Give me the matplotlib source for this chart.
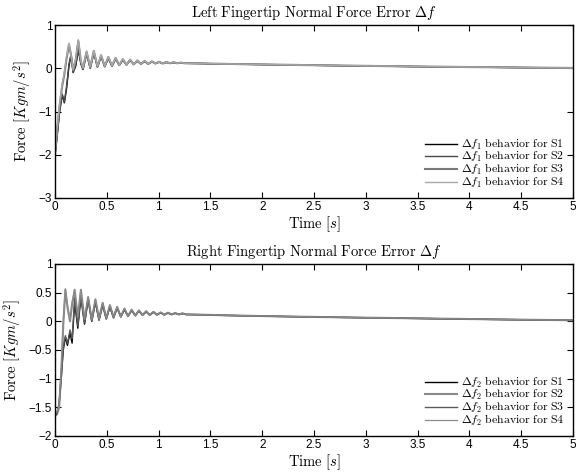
import matplotlib
matplotlib.use("Agg")
import matplotlib.pyplot as plt

plt.rcParams['mathtext.fontset'] = 'cm'
plt.rcParams['font.family'] = ['Liberation Sans', 'DejaVu Sans']

# ---------------- data: top panel (left fingertip) ----------------
t_top = [0, 0.02, 0.045, 0.07, 0.09, 0.11, 0.135, 0.155, 0.175, 0.2, 0.225, 0.25, 0.27,
         0.305, 0.34, 0.375, 0.41, 0.445, 0.48, 0.515, 0.55, 0.585, 0.62, 0.655, 0.69,
         0.725, 0.76, 0.795, 0.83, 0.865, 0.9, 0.935, 0.97, 1.005, 1.04, 1.075, 1.11,
         1.145, 1.18, 1.215, 1.25, 1.4, 1.6, 2.0, 2.5, 3.0, 3.5, 4.0, 4.5, 5.0]
left_s1 = [-2.0, -1.6, -1.0, -0.62, -0.8, -0.5, 0.05, 0.3, -0.1, 0.05, 0.42, 0.1, -0.03,
           0.33, 0.0, 0.35, 0.03, 0.27, 0.04, 0.23, 0.05, 0.21, 0.07, 0.19, 0.08,
           0.18, 0.09, 0.16, 0.1, 0.155, 0.1, 0.15, 0.11, 0.14, 0.11, 0.135, 0.115,
           0.13, 0.115, 0.125, 0.115, 0.11, 0.1, 0.085, 0.068, 0.052, 0.038, 0.026, 0.015, 0.005]
left_s2 = [-2.0, -1.55, -0.95, -0.6, -0.78, -0.45, 0.1, 0.33, -0.08, 0.08, 0.45, 0.12, -0.02,
           0.36, 0.01, 0.37, 0.03, 0.28, 0.04, 0.24, 0.05, 0.22, 0.07, 0.2, 0.08,
           0.19, 0.09, 0.17, 0.1, 0.16, 0.1, 0.15, 0.11, 0.145, 0.11, 0.14, 0.115,
           0.135, 0.115, 0.125, 0.115, 0.11, 0.1, 0.086, 0.069, 0.053, 0.039, 0.027, 0.016, 0.006]
left_s3 = [-2.0, -1.45, -0.85, -0.4, -0.15, 0.2, 0.55, 0.3, -0.05, 0.2, 0.63, 0.15, 0.0,
           0.38, 0.02, 0.4, 0.03, 0.3, 0.04, 0.26, 0.05, 0.24, 0.07, 0.21, 0.08,
           0.2, 0.09, 0.18, 0.1, 0.17, 0.1, 0.16, 0.11, 0.15, 0.11, 0.145, 0.115,
           0.14, 0.115, 0.13, 0.115, 0.112, 0.102, 0.088, 0.07, 0.055, 0.04, 0.028, 0.017, 0.007]
left_s4 = [-2.0, -1.4, -0.8, -0.35, -0.1, 0.25, 0.58, 0.32, -0.03, 0.22, 0.66, 0.17, 0.01,
           0.4, 0.03, 0.41, 0.04, 0.31, 0.05, 0.27, 0.06, 0.24, 0.07, 0.22, 0.08,
           0.2, 0.09, 0.18, 0.1, 0.17, 0.1, 0.16, 0.11, 0.15, 0.11, 0.145, 0.115,
           0.14, 0.115, 0.13, 0.115, 0.113, 0.103, 0.089, 0.071, 0.056, 0.041, 0.029, 0.018, 0.008]

# ---------------- data: bottom panel (right fingertip) ----------------
t_bot = [0, 0.02, 0.04, 0.06, 0.08, 0.1, 0.12, 0.145, 0.165, 0.19, 0.22, 0.25, 0.285,
         0.32, 0.355, 0.39, 0.425, 0.46, 0.495, 0.53, 0.565, 0.6, 0.635, 0.67, 0.705,
         0.74, 0.775, 0.81, 0.845, 0.88, 0.915, 0.95, 0.985, 1.02, 1.055, 1.09, 1.125,
         1.16, 1.195, 1.23, 1.265, 1.4, 1.6, 2.0, 2.5, 3.0, 3.5, 4.0, 4.5, 5.0]
right_s1 = [-1.65, -1.6, -1.45, -1.0, -0.5, -0.28, -0.42, -0.2, -0.38, 0.33, -0.12, 0.42, -0.05,
            0.38, 0.0, 0.33, 0.02, 0.28, 0.04, 0.25, 0.06, 0.23, 0.08, 0.2, 0.09,
            0.19, 0.1, 0.18, 0.11, 0.165, 0.11, 0.16, 0.115, 0.15, 0.115, 0.145, 0.12,
            0.14, 0.12, 0.135, 0.12, 0.115, 0.105, 0.09, 0.075, 0.062, 0.05, 0.038, 0.027, 0.017]
right_s2 = [-1.65, -1.62, -1.5, -0.9, -0.05, 0.55, 0.25, 0.0, 0.3, 0.55, 0.05, 0.55, 0.02,
            0.42, 0.02, 0.38, 0.04, 0.32, 0.05, 0.28, 0.07, 0.25, 0.08, 0.22, 0.09,
            0.2, 0.1, 0.19, 0.11, 0.175, 0.11, 0.165, 0.115, 0.155, 0.115, 0.15, 0.12,
            0.145, 0.12, 0.14, 0.12, 0.117, 0.107, 0.092, 0.077, 0.064, 0.052, 0.04, 0.029, 0.019]
right_s3 = [-1.65, -1.6, -1.42, -0.95, -0.45, -0.25, -0.38, -0.15, -0.3, 0.4, -0.08, 0.45, -0.03,
            0.4, 0.01, 0.35, 0.03, 0.3, 0.05, 0.26, 0.07, 0.24, 0.08, 0.21, 0.09,
            0.195, 0.1, 0.185, 0.11, 0.17, 0.11, 0.16, 0.115, 0.152, 0.115, 0.147, 0.12,
            0.142, 0.12, 0.137, 0.12, 0.116, 0.106, 0.091, 0.076, 0.063, 0.051, 0.039, 0.028, 0.018]
right_s4 = [-1.6, -1.58, -1.45, -0.85, 0.0, 0.57, 0.28, 0.02, 0.32, 0.53, 0.07, 0.53, 0.03,
            0.43, 0.03, 0.39, 0.04, 0.33, 0.05, 0.29, 0.07, 0.26, 0.08, 0.23, 0.09,
            0.21, 0.1, 0.195, 0.11, 0.18, 0.11, 0.17, 0.115, 0.16, 0.115, 0.152, 0.12,
            0.147, 0.12, 0.14, 0.12, 0.118, 0.108, 0.093, 0.078, 0.065, 0.053, 0.041, 0.03, 0.02]

x_ticks = [0, 0.5, 1, 1.5, 2, 2.5, 3, 3.5, 4, 4.5, 5]
x_ticklabels = ['0', '0.5', '1', '1.5', '2', '2.5', '3', '3.5', '4', '4.5', '5']
top_yticks = [-3, -2, -1, 0, 1]
bot_yticks = [-2, -1.5, -1, -0.5, 0, 0.5, 1]

top_labels = [r'$\Delta f_1\ \mathrm{behavior\ for\ S1}$', r'$\Delta f_1\ \mathrm{behavior\ for\ S2}$',
              r'$\Delta f_1\ \mathrm{behavior\ for\ S3}$', r'$\Delta f_1\ \mathrm{behavior\ for\ S4}$']
bot_labels = [r'$\Delta f_2\ \mathrm{behavior\ for\ S1}$', r'$\Delta f_2\ \mathrm{behavior\ for\ S2}$',
              r'$\Delta f_2\ \mathrm{behavior\ for\ S3}$', r'$\Delta f_2\ \mathrm{behavior\ for\ S4}$']

top_styles = [('#000000', 1.0), ('#4a4a4a', 1.0), ('#7a7a7a', 1.5), ('#a8a8a8', 1.0)]
bot_styles = [('#000000', 1.0), ('#8a8a8a', 1.5), ('#5a5a5a', 1.0), ('#8c8c8c', 0.9)]

fig = plt.figure(figsize=(5.8, 4.72), dpi=100)
ax1 = fig.add_axes([55/580, 1-198/472, 518/580, 173/472])
ax2 = fig.add_axes([55/580, 1-436/472, 518/580, 172/472])


def style_axes(ax, yticks, ylim, title):
    ax.set_xlim(0, 5)
    ax.set_ylim(*ylim)
    ax.set_xticks(x_ticks)
    ax.set_xticklabels(x_ticklabels)
    ax.set_yticks(yticks)
    ax.set_yticklabels([('\u2212' if v < 0 else '') + ('%g' % abs(v)) for v in yticks])
    ax.tick_params(direction='in', top=True, right=True, length=4, width=0.8,
                   labelsize=8.5, pad=2)
    for sp in ax.spines.values():
        sp.set_linewidth(1.0)
    ax.set_title(title, fontsize=10.5, pad=6)
    ax.set_xlabel(r'$\mathrm{Time}\ [s]$', fontsize=10.5, labelpad=1)
    ax.set_ylabel(r'$\mathrm{Force}\ [Kgm/s^2]$', fontsize=10.5, labelpad=4)


for vals, lab, (c, lw) in zip([left_s1, left_s2, left_s3, left_s4], top_labels, top_styles):
    ax1.plot(t_top, vals, color=c, lw=lw, label=lab)
for vals, lab, (c, lw) in zip([right_s1, right_s2, right_s3, right_s4], bot_labels, bot_styles):
    ax2.plot(t_bot, vals, color=c, lw=lw, label=lab)

style_axes(ax1, top_yticks, (-3, 1), r'$\mathrm{Left\ Fingertip\ Normal\ Force\ Error}\ \Delta f$')
style_axes(ax2, bot_yticks, (-2, 1), r'$\mathrm{Right\ Fingertip\ Normal\ Force\ Error}\ \Delta f$')

for ax in (ax1, ax2):
    ax.legend(loc='lower right', frameon=False, fontsize=8.5, handlelength=2.7,
              handletextpad=0.4, labelspacing=-0.2, borderaxespad=0.3)

fig.savefig('out.png', dpi=100)
